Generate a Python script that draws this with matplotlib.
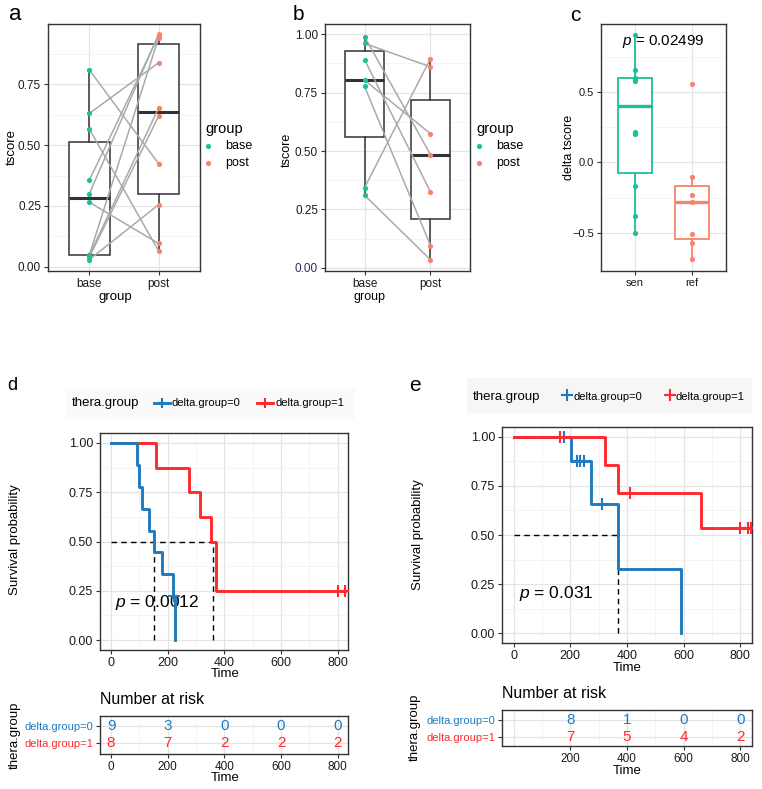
import numpy as np
import matplotlib
matplotlib.use('Agg')
import matplotlib.pyplot as plt
from matplotlib.patches import Rectangle
from matplotlib.lines import Line2D

plt.rcParams.update({
    'font.family': ['Liberation Sans', 'DejaVu Sans'],
    'mathtext.fontset': 'custom',
    'mathtext.rm': 'Liberation Sans',
    'mathtext.it': 'Liberation Sans:italic',
    'axes.unicode_minus': True,
})

W, H = 762, 789
TEAL = '#1DBF99'
SALMON = '#F7836B'
BLUE = '#1F7BBF'
RED = '#FF2A2E'

# ---- data ----
# panel a: paired tscore (base -> post)
a_base = [0.808, 0.565, 0.265, 0.630, 0.030, 0.357, 0.301, 0.050, 0.048, 0.041]
a_post = [0.424, 0.066, 0.096, 0.838, 0.255, 0.948, 0.955, 0.940, 0.652, 0.618]
# panel b: paired tscore (base -> post)
b_base = [0.989, 0.960, 0.891, 0.803, 0.776, 0.343, 0.311]
b_post = [0.485, 0.860, 0.325, 0.574, 0.096, 0.895, 0.035]
# panel c: delta tscore
c_groups = ['sen', 'ref']
c_sen = [0.903, 0.655, 0.600, 0.590, 0.580, 0.215, 0.205, -0.165, -0.383, -0.499]
c_ref = [0.556, -0.104, -0.229, -0.279, -0.508, -0.572, -0.686]
c_pval = '0.02499'

# panel d: survival times (event=1, censored=0)
d0_time = [93, 98, 110, 134, 151, 178, 217, 221, 226]
d0_event = [1, 1, 1, 1, 1, 1, 1, 0, 1]
d1_time = [160, 274, 314, 351, 369, 369, 802, 826]
d1_event = [1, 1, 1, 1, 1, 1, 0, 0]
d_pval = '0.0012'
d_risk_times = [0, 200, 400, 600, 800]

# panel e
e0_time = [176, 201, 223, 233, 247, 274, 313, 368, 590]
e0_event = [0, 1, 0, 0, 0, 1, 0, 1, 1]
e1_time = [165, 321, 368, 412, 661, 797, 828, 836]
e1_event = [0, 1, 1, 0, 1, 0, 0, 0]
e_pval = '0.031'
e_risk_times = [200, 400, 600, 800]

strata = ['delta.group=0', 'delta.group=1']

fig = plt.figure(figsize=(W / 100, H / 100), dpi=100)


def px_axes(x0, y0, x1, y1):
    return fig.add_axes([x0 / W, 1 - y1 / H, (x1 - x0) / W, (y1 - y0) / H])


def gg_style(ax, labelsize=8.5):
    ax.set_facecolor('white')
    ax.grid(True, which='major', color='#E4E4E4', lw=0.9)
    ax.grid(True, which='minor', color='#F2F2F2', lw=0.6)
    ax.set_axisbelow(True)
    for s in ax.spines.values():
        s.set_color('#333333')
        s.set_linewidth(1.0)
    ax.tick_params(which='major', length=3, width=0.8, color='#333333',
                   labelsize=labelsize, labelcolor='#1A1A1A', pad=2)
    ax.tick_params(which='minor', length=0)


def draw_box(ax, data, pos, color, lw=1.1, medlw=2.2):
    ax.boxplot([data], positions=[pos], widths=0.6, showcaps=False,
               showfliers=False, patch_artist=True, manage_ticks=False,
               boxprops=dict(facecolor='white', edgecolor=color, linewidth=lw),
               whiskerprops=dict(color=color, linewidth=lw),
               medianprops=dict(color=color, linewidth=medlw), zorder=2)


def paired_panel(ax, base, post, ylim, yticks, yminor):
    gg_style(ax)
    draw_box(ax, base, 1, '#333333')
    draw_box(ax, post, 2, '#333333')
    for b, p in zip(base, post):
        ax.plot([1, 2], [b, p], color='#AAAAAA', lw=1.1, zorder=3)
    ax.scatter([1] * len(base), base, s=14, color=TEAL, zorder=4, lw=0)
    ax.scatter([2] * len(post), post, s=14, color=SALMON, zorder=4, lw=0)
    ax.set_xlim(0.4, 2.6)
    ax.set_ylim(*ylim)
    ax.set_xticks([1, 2])
    ax.set_xticklabels(['base', 'post'])
    ax.set_yticks(yticks)
    ax.set_yticklabels(['%.2f' % v for v in yticks])
    ax.set_yticks(yminor, minor=True)


# ---- panel a ----
ax_a = px_axes(48, 24, 200, 271)
paired_panel(ax_a, a_base, a_post, (-0.017, 0.997),
             [0, 0.25, 0.5, 0.75], [0.125, 0.375, 0.625, 0.875])

# ---- panel b ----
ax_b = px_axes(325, 24, 470, 271)
paired_panel(ax_b, b_base, b_post, (-0.013, 1.043),
             [0, 0.25, 0.5, 0.75, 1.0], [0.125, 0.375, 0.625, 0.875])
ax_b.get_yticklabels()[0].set_color('#2B2B5A')

# ---- panel c ----
ax_c = px_axes(601, 24, 726, 271)
gg_style(ax_c, labelsize=8)
draw_box(ax_c, c_sen, 1, TEAL, lw=1.3, medlw=2.4)
draw_box(ax_c, c_ref, 2, SALMON, lw=1.3, medlw=2.4)
ax_c.scatter([1] * len(c_sen), c_sen, s=14, color=TEAL, zorder=4, lw=0)
ax_c.scatter([2] * len(c_ref), c_ref, s=14, color=SALMON, zorder=4, lw=0)
ax_c.set_xlim(0.4, 2.6)
ax_c.set_ylim(-0.77, 0.982)
ax_c.set_xticks([1, 2])
ax_c.set_xticklabels(c_groups)
ax_c.set_yticks([-0.5, 0, 0.5])
ax_c.set_yticklabels(['\u22120.5', '0.0', '0.5'])
ax_c.set_yticks([-0.25, 0.25, 0.75], minor=True)
ax_c.text(1.5, 0.855, r'$p$ = ' + c_pval, ha='center', va='center', fontsize=11)


# ---- Kaplan-Meier helpers ----
def km(times, events):
    t = np.asarray(times, float)
    e = np.asarray(events, int)
    s = 1.0
    ev_t, ev_s, cens = [], [], []
    for u in np.unique(t):
        n = (t >= u).sum()
        d = ((t == u) & (e == 1)).sum()
        if d > 0:
            s = s * (1 - d / n)
            ev_t.append(u)
            ev_s.append(s)
        if ((t == u) & (e == 0)).sum() > 0:
            cens.append((u, s))
    xs = [0.0] + ev_t + [t.max()]
    ys = [1.0] + ev_s + [s]
    return xs, ys, ev_t, ev_s, cens


def km_median(ev_t, ev_s):
    for i, (u, s) in enumerate(zip(ev_t, ev_s)):
        if abs(s - 0.5) < 1e-9 and i + 1 < len(ev_t):
            return (u + ev_t[i + 1]) / 2
        if s < 0.5:
            return u
    return None


def km_panel(ax, groups, colors, zorders, xlim):
    gg_style(ax, labelsize=9)
    meds = []
    for (tt, ee), col, z in zip(groups, colors, zorders):
        xs, ys, ev_t, ev_s, cens = km(tt, ee)
        ax.step(xs, ys, where='post', color=col, lw=2.1, zorder=z)
        if cens:
            ct, cs = zip(*cens)
            ax.plot(ct, cs, '+', ms=8, mew=1.5, color=col, zorder=z)
        m = km_median(ev_t, ev_s)
        if m is not None:
            meds.append(m)
    if meds:
        ax.plot([0, max(meds)], [0.5, 0.5], color='black', lw=1.0,
                dashes=(4, 3), zorder=2.5)
        for m in meds:
            ax.plot([m, m], [0, 0.5], color='black', lw=1.0,
                    dashes=(4, 3), zorder=2.5)
    ax.set_xlim(*xlim)
    ax.set_ylim(-0.05, 1.05)
    ax.set_xticks([0, 200, 400, 600, 800])
    ax.set_xticks([100, 300, 500, 700], minor=True)
    ax.set_yticks([0, 0.25, 0.5, 0.75, 1.0])
    ax.set_yticklabels(['0.00', '0.25', '0.50', '0.75', '1.00'])
    ax.set_yticks([0.125, 0.375, 0.625, 0.875], minor=True)


def risk_table(ax, groups, colors, rtimes, xlim, ylim, xticks):
    gg_style(ax, labelsize=8.5)
    ax.set_xlim(*xlim)
    ax.set_ylim(*ylim)
    for row, ((tt, ee), col) in zip([1, 0], zip(groups, colors)):
        t = np.asarray(tt)
        for rt in rtimes:
            ax.text(rt, row, str((t >= rt).sum()), ha='center', va='center',
                    fontsize=11, color=col)
    ax.set_xticks(xticks)
    ax.set_xticklabels([str(v) for v in xticks])
    ax.set_xticks([100, 300, 500, 700], minor=True)
    if 0 not in xticks:
        ax.axvline(0, color='#E4E4E4', lw=0.9, zorder=0)
    ax.set_yticks([1, 0])
    ax.set_yticklabels(strata, fontsize=8)
    for lab, col in zip(ax.get_yticklabels(), colors):
        lab.set_color(col)


# ---- panel d ----
ax_d = px_axes(100, 433, 348, 650)
km_panel(ax_d, [(d1_time, d1_event), (d0_time, d0_event)], [RED, BLUE],
         [3, 4], (-39, 836))
ax_d.text(14, 0.19, r'$p$ = ' + d_pval, ha='left', va='center', fontsize=12.5, zorder=1)
ax_dt = px_axes(100, 716, 348, 754)
risk_table(ax_dt, [(d0_time, d0_event), (d1_time, d1_event)], [BLUE, RED],
           d_risk_times, (-39, 836), (-0.65, 1.59), [0, 200, 400, 600, 800])

# ---- panel e ----
ax_e = px_axes(502, 427, 752, 643)
km_panel(ax_e, [(e0_time, e0_event), (e1_time, e1_event)], [BLUE, RED],
         [3, 4], (-41, 841))
ax_e.text(18, 0.2, r'$p$ = ' + e_pval, ha='left', va='center', fontsize=12.5, zorder=1)
ax_et = px_axes(502, 710, 752, 746)
risk_table(ax_et, [(e0_time, e0_event), (e1_time, e1_event)], [BLUE, RED],
           e_risk_times, (-41, 841), (-0.53, 1.59), [200, 400, 600, 800])

# ---- overlay for labels and legends (pixel coordinates) ----
ov = fig.add_axes([0, 0, 1, 1])
ov.set_xlim(0, W)
ov.set_ylim(H, 0)
ov.axis('off')
ov.patch.set_visible(False)


def lab(x, y, s, **kw):
    kw.setdefault('ha', 'center')
    kw.setdefault('va', 'center')
    ov.text(x, y, s, **kw)


# panel letters
lab(15, 14, 'a', fontsize=16)
lab(298, 14, 'b', fontsize=15)
lab(575, 15, 'c', fontsize=15)
lab(12, 385, 'd', fontsize=13)
lab(415, 385, 'e', fontsize=15)

# axis titles top row
lab(12, 147, 'tscore', rotation=90, fontsize=9.5)
lab(115, 297, 'group', fontsize=9.5)
lab(287, 150, 'tscore', rotation=90, fontsize=9)
lab(370, 297, 'group', fontsize=9)
lab(569, 147, 'delta tscore', rotation=90, fontsize=9)

# group legends
for lx, ty in [(205, 129), (476, 129)]:
    lab(lx, ty, 'group', ha='left', fontsize=10.5)
    ov.scatter([lx + 3], [ty + 17], s=14, color=TEAL, lw=0)
    ov.scatter([lx + 3], [ty + 34], s=14, color=SALMON, lw=0)
    lab(lx + 20, ty + 17, 'base', ha='left', fontsize=9)
    lab(lx + 20, ty + 34, 'post', ha='left', fontsize=9)

# KM legends
ov.add_patch(Rectangle((65, 388), 290, 31, color='#FAFAFA', lw=0, zorder=0))
lab(72, 403, 'thera.group', ha='left', fontsize=9.5)
for x0, col, txt in [(154, BLUE, strata[0]), (257, RED, strata[1])]:
    ov.add_line(Line2D([x0, x0 + 16], [403, 403], color=col, lw=2.1))
    ov.plot([x0 + 8], [403], '+', ms=7, mew=1.5, color=col)
    lab(x0 + 18, 403, txt, ha='left', fontsize=8)

ov.add_patch(Rectangle((467, 378), 285, 35, color='#F6F6F6', lw=0, zorder=0))
lab(473, 397, 'thera.group', ha='left', fontsize=9.5)
for x0, col, txt in [(567, BLUE, strata[0]), (670, RED, strata[1])]:
    ov.plot([x0], [395], '+', ms=8, mew=1.5, color=col)
    lab(x0 + 6, 397, txt, ha='left', fontsize=8)

# KM axis titles
lab(15, 540, 'Survival probability', rotation=90, fontsize=9.5)
lab(225, 674, 'Time', fontsize=9.5)
lab(418, 535, 'Survival probability', rotation=90, fontsize=9.5)
lab(627, 668, 'Time', fontsize=9.5)

# risk table titles
lab(100, 700, 'Number at risk', ha='left', fontsize=11.5)
lab(15, 735, 'thera.group', rotation=90, fontsize=9.5)
lab(225, 778, 'Time', fontsize=9.5)
lab(502, 693, 'Number at risk', ha='left', fontsize=11.5)
lab(415, 727, 'thera.group', rotation=90, fontsize=9.5)
lab(627, 771, 'Time', fontsize=9.5)

fig.savefig('out.png', dpi=100, facecolor='white')
